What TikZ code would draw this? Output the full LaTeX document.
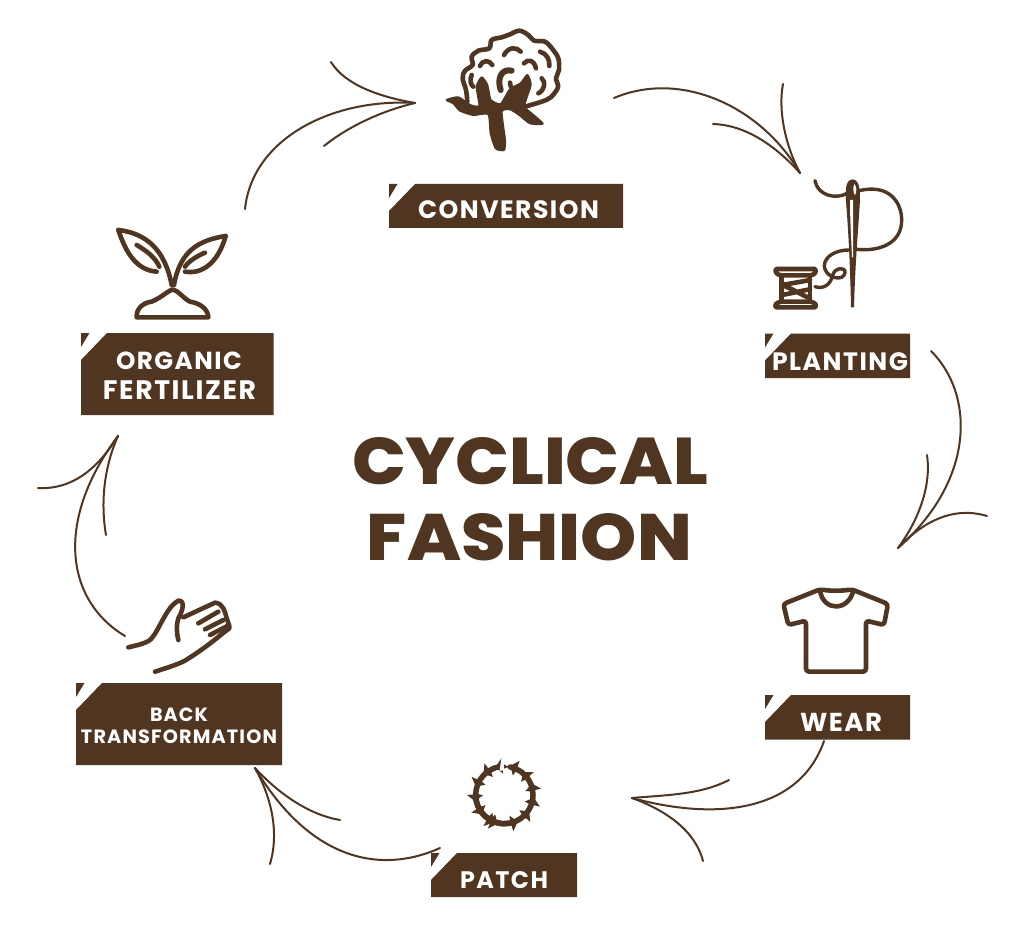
\documentclass[tikz,border=0pt]{standalone}
\usepackage{fontspec}
\usepackage{graphicx}
\setmainfont{Poppins}
\newfontfamily\lab{Poppins}[LetterSpace=6]
\newfontfamily\heavy{Poppins ExtraBold}
\definecolor{brown}{HTML}{503620}
\newcommand\fitw[2]{\resizebox{#1pt}{!}{\lab\bfseries\fontsize{20}{24}\selectfont #2}}
\newcommand\tagbox[4]{%
  \fill[brown] ({#1+26},#2) -- (#3,#2) -- (#3,#4) -- (#1,#4) -- (#1,{#2+27}) -- cycle;
  \fill[brown] (#1,#2) -- ({#1+8.5},#2) -- (#1,{#2+14}) -- cycle;}
\tikzset{
  flow/.style={draw=brown,line width=2pt,line cap=round},
  ico/.style={draw=brown,line width=4.6pt,line cap=round,line join=round},
  icoT/.style={draw=brown,line width=3.4pt,line cap=round,line join=round},
  lbl/.style={text=white,inner sep=0pt,align=center},
  ttl/.style={text=brown,inner sep=0pt}
}
\begin{document}
\begin{tikzpicture}[x=1pt,y=-1pt]
\useasboundingbox (0,0) rectangle (1024,933);
\fill[white] (0,0) rectangle (1024,933);
% tags
\tagbox{389}{184}{623}{228}
\tagbox{765}{333.5}{910}{378}
\tagbox{81}{333}{273.5}{415}
\tagbox{76}{683}{282}{765}
\tagbox{431}{853}{577}{897}
\tagbox{765}{695}{910}{739.5}
% labels
\node[lbl] (conv) at (508.5,209.5) {\fitw{181}{CONVERSION}};
\node[lbl] (plant) at (840,361.5) {\fitw{136}{PLANTING}};
\node[lbl] (org) at (179,360.5) {\fitw{126}{ORGANIC}};
\node[lbl] (fert) at (179.5,390.5) {\fitw{153}{FERTILIZER}};
\node[lbl] (back) at (179,714.5) {\fitw{58}{BACK}};
\node[lbl] (trans) at (179,736.5) {\fitw{196}{TRANSFORMATION}};
\node[lbl] (patch) at (504,880.5) {\fitw{88}{PATCH}};
\node[lbl] (wear) at (841,722.5) {\fitw{82}{WEAR}};
\node[ttl] (t1) at (530,461.5) {\resizebox{356pt}{47pt}{\heavy\fontsize{60}{70}\selectfont CYCLICAL}};
\node[ttl] (t2) at (529.5,537.5) {\resizebox{325pt}{47pt}{\heavy\fontsize{60}{70}\selectfont FASHION}};
% arrow 1
\coordinate (a1s) at (245,209); \coordinate (a1t) at (415,103);
\coordinate (a1b) at (331,62); \coordinate (a1c) at (324,146);
\draw[flow] (a1s) .. controls (252,140) and (330,98) .. (a1t);
\draw[flow] (a1b) .. controls (345,85) and (380,97) .. (a1t);
\draw[flow] (a1c) .. controls (350,125) and (385,110) .. (a1t);
% arrow 2
\coordinate (a2s) at (614,98); \coordinate (a2t) at (800,173);
\coordinate (a2b) at (713,124); \coordinate (a2c) at (783,84);
\draw[flow] (a2s) .. controls (680,70) and (760,105) .. (a2t);
\draw[flow] (a2b) .. controls (745,125) and (775,145) .. (a2t);
\draw[flow] (a2c) .. controls (778,110) and (785,145) .. (a2t);
% arrow 3
\coordinate (a3s) at (931,351); \coordinate (a3t) at (898,548);
\coordinate (a3b) at (927,455); \coordinate (a3c) at (987,516);
\draw[flow] (a3s) .. controls (975,395) and (975,480) .. (a3t);
\draw[flow] (a3b) .. controls (932,490) and (915,525) .. (a3t);
\draw[flow] (a3c) .. controls (950,505) and (920,525) .. (a3t);
% arrow 4
\coordinate (a4s) at (824,741); \coordinate (a4t) at (632,798);
\coordinate (a4b) at (729,780); \coordinate (a4c) at (703,861);
\draw[flow] (a4s) .. controls (800,810) and (720,822) .. (a4t);
\draw[flow] (a4b) .. controls (700,795) and (665,795) .. (a4t);
\draw[flow] (a4c) .. controls (695,830) and (665,810) .. (a4t);
% arrow 5
\coordinate (a5s) at (440,848); \coordinate (a5t) at (255,768);
\coordinate (a5b) at (340,820); \coordinate (a5c) at (270,864);
\draw[flow] (a5s) .. controls (380,875) and (310,860) .. (a5t);
\draw[flow] (a5b) .. controls (310,815) and (280,795) .. (a5t);
\draw[flow] (a5c) .. controls (280,830) and (270,795) .. (a5t);
% arrow 6
\coordinate (a6s) at (125,636); \coordinate (a6t) at (118,436);
\coordinate (a6b) at (38,488); \coordinate (a6c) at (106,535);
\draw[flow] (a6s) .. controls (65,600) and (55,520) .. (a6t);
\draw[flow] (a6b) .. controls (75,490) and (100,465) .. (a6t);
\draw[flow] (a6c) .. controls (100,500) and (105,465) .. (a6t);
% cotton
\begin{scope}[shift={(430,0)},scale=1/3]
\draw[ico] plot[smooth,tension=0.55] coordinates {(112,305) (108,270) (98,235) (105,212) (128,195) (125,170) (145,152) (178,145) (185,120) (215,112) (240,103) (268,92) (295,105) (312,122) (345,125) (368,148) (385,175) (387,210) (378,235) (384,262) (362,292) (335,305) (285,320)};
\fill[brown,draw=brown,line width=2pt,line join=round] plot[smooth cycle,tension=0.35] coordinates {(50,300) (85,292) (120,315) (148,318) (140,260) (155,232) (172,255) (182,300) (212,312) (240,268) (272,250) (292,225) (302,255) (283,318) (310,345) (338,371) (300,370) (268,345) (240,328) (215,335) (225,420) (222,450) (197,445) (182,400) (175,342) (130,345) (90,332) (70,310)};
\draw[ico] (222,165) .. controls (235,140) and (260,140) .. (272,155);
\draw[ico] (150,198) .. controls (160,178) and (178,180) .. (187,195);
\draw[ico] (282,190) .. controls (295,175) and (312,180) .. (318,205);
\draw[ico] (125,225) .. controls (118,240) and (122,255) .. (130,260);
\draw[line width=6pt,draw=brown,line cap=round] (245,212) .. controls (215,205) and (200,235) .. (212,270);
\draw[ico] (240,248) .. controls (240,260) and (248,268) .. (255,272);
\draw[ico] (330,155) .. controls (350,160) and (360,180) .. (358,198);
\draw[ico] (335,235) .. controls (348,245) and (345,270) .. (325,280);
\end{scope}
% needle and spool
\begin{scope}[shift={(760,170)},scale=1/3]
\draw[icoT] (165,32) .. controls (172,75) and (225,90) .. (262,70);
\draw[icoT] (298,62) .. controls (390,40) and (425,100) .. (425,150) .. controls (425,220) and (360,245) .. (290,238);
\draw[icoT] (268,240) .. controls (215,240) and (185,270) .. (195,298) .. controls (205,325) and (250,335) .. (255,308) .. controls (258,290) and (225,292) .. (218,315) .. controls (212,345) and (190,358) .. (165,350);
\fill[brown] (278,28) .. controls (252,30) and (256,70) .. (260,120) .. controls (265,190) and (270,270) .. (273,412) -- (282,412) .. controls (286,270) and (294,190) .. (298,120) .. controls (302,70) and (302,30) .. (278,28) -- cycle;
\fill[white] (283,42) .. controls (278,50) and (280,70) .. (285,76) .. controls (291,65) and (290,48) .. (283,42) -- cycle;
\fill[white] (270,90) .. controls (270,150) and (274,210) .. (276,262) -- (279,262) -- (279,90) -- cycle;
\draw[ico,fill=white] (48,297) -- (165,297) .. controls (170,305) and (165,315) .. (150,316) -- (65,316) .. controls (50,315) and (44,305) .. (48,297) -- cycle;
\draw[ico,fill=white] (65,395) -- (150,395) .. controls (165,397) and (172,405) .. (165,412) -- (48,412) .. controls (42,405) and (50,397) .. (65,395) -- cycle;
\draw[ico] (65,316) -- (65,395) (150,316) -- (150,395);
\draw[ico] (65,345) .. controls (95,340) and (125,335) .. (150,330);
\draw[ico] (65,345) .. controls (95,355) and (125,375) .. (150,385);
\draw[ico] (65,375) .. controls (95,370) and (125,362) .. (150,358);
\end{scope}
% sprout
\begin{scope}[shift={(70,220)},scale=1/3]
\draw[ico] (145,30) .. controls (230,40) and (285,90) .. (305,195);
\draw[ico] (145,30) .. controls (165,90) and (195,150) .. (260,155);
\draw[ico] (200,75) .. controls (225,90) and (255,110) .. (268,140);
\draw[ico] (467,48) .. controls (390,60) and (330,90) .. (312,195);
\draw[ico] (467,48) .. controls (450,110) and (410,165) .. (345,155);
\draw[ico] (405,98) .. controls (380,108) and (355,125) .. (345,140);
\draw[ico] (200,292) .. controls (198,262) and (225,247) .. (245,245) .. controls (275,232) and (295,212) .. (308,208) .. controls (325,212) and (340,235) .. (360,245) .. controls (395,250) and (415,272) .. (415,292) -- cycle;
\end{scope}
% hand
\begin{scope}[shift={(70,590)},scale=1/3]
\draw[ico] (175,172) .. controls (205,165) and (235,158) .. (245,145) .. controls (270,115) and (290,50) .. (325,32) .. controls (345,30) and (340,60) .. (325,85) .. controls (318,105) and (320,130) .. (325,150);
\draw[ico] (340,82) -- (435,38) .. controls (460,40) and (465,65) .. (470,85) .. controls (475,100) and (480,110) .. (478,115) .. controls (450,135) and (420,165) .. (345,212) .. controls (320,225) and (285,235) .. (255,245);
\draw[ico] (385,100) -- (445,65);
\draw[ico] (405,118) -- (460,90);
\draw[ico] (420,135) -- (472,108);
\end{scope}
% wreath
\begin{scope}[shift={(425,750)},scale=1/3]
\foreach \a in {-112,-72,-42,-14,14,42,70,98,126,155,184,212,240}{
  \fill[brown,shift={(238,135)},rotate=\a,shift={(86,0)}] (26,8) -- (8,8) -- (-4,24) -- (-8,8) -- (-22,4) -- (-8,-6) -- (-4,-24) -- (7,-9) -- cycle;
}
\draw[line width=5.5pt,draw=brown,line cap=round] (238,135) ++(-102:86) arc[start angle=-102,end angle=-460+180,radius=86];
\draw[line width=5.5pt,draw=brown,line cap=round] (238,135) ++(-78:86) arc[start angle=-78,end angle=180,radius=86];
\fill[white] (224,62) -- (230,18) -- (236,18) -- (237,62) -- cycle;
\end{scope}
% shirt
\begin{scope}[shift={(760,580)},scale=1/3]
\draw[ico,rounded corners=3pt] (180,28) .. controls (210,33) and (245,33) .. (275,28) -- (384,72) -- (372,135) -- (318,122) -- (318,275) -- (138,275) -- (138,122) -- (85,135) -- (70,72) -- cycle;
\draw[ico] (180,32) .. controls (190,95) and (265,95) .. (280,32);
\end{scope}
\end{tikzpicture}
\end{document}
